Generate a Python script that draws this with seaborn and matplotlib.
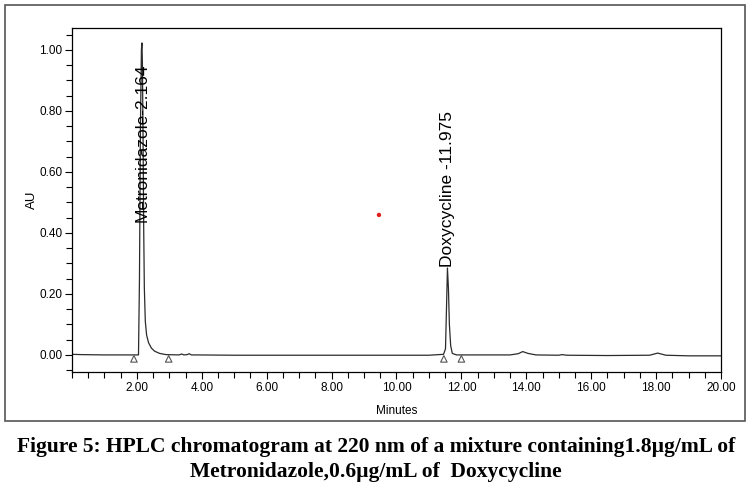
import numpy as np
import pandas as pd
import matplotlib
matplotlib.use("Agg")
import matplotlib.pyplot as plt
import seaborn as sns
from matplotlib.ticker import MultipleLocator, FormatStrFormatter
from matplotlib.patches import Rectangle

# chromatogram trace (minutes, AU)
minutes = [0.00, 0.30, 1.00, 1.90, 2.05, 2.08, 2.11, 2.14, 2.155, 2.17, 2.19, 2.21,
           2.23, 2.26, 2.30, 2.36, 2.45, 2.55, 2.70, 2.90, 3.30, 3.38, 3.45, 3.55,
           3.61, 3.68, 3.85, 5.00, 7.00, 9.00, 11.00, 11.45, 11.51, 11.54, 11.57,
           11.60, 11.63, 11.67, 11.72, 11.85, 12.50, 13.50, 13.75, 13.89, 14.05,
           14.30, 15.00, 15.10, 15.25, 16.50, 17.80, 18.05, 18.30, 19.00, 20.00]
au = [0.002, 0.001, 0.000, 0.000, 0.000, 0.250, 0.750, 1.000, 1.023, 0.960, 0.720, 0.420,
      0.220, 0.110, 0.065, 0.040, 0.022, 0.012, 0.005, 0.001, 0.000, 0.003, 0.000, 0.001,
      0.004, 0.000, 0.000, -0.001, -0.001, -0.001, -0.001, 0.002, 0.020, 0.150, 0.285,
      0.220, 0.100, 0.030, 0.005, 0.000, 0.000, 0.000, 0.004, 0.011, 0.005,
      0.000, -0.001, 0.001, -0.001, -0.002, -0.001, 0.006, -0.001, -0.003, -0.003]

# integration markers
marker_min = [1.91, 2.98, 11.46, 12.00]
marker_au = [-0.013, -0.013, -0.013, -0.013]

peak_names = ["Metronidazole-2.164", "Doxycycline -11.975"]
peak_min = [2.15, 11.58]
label_base = [0.436, 0.287]

dot_min = [9.46]
dot_au = [0.459]

trace = pd.DataFrame({"Minutes": minutes, "AU": au})
marks = pd.DataFrame({"Minutes": marker_min, "AU": marker_au})

sns.set_theme(style="ticks")
plt.rcParams["font.family"] = ["Liberation Sans", "DejaVu Sans"]
plt.rcParams["text.color"] = "black"
plt.rcParams["axes.labelcolor"] = "black"
plt.rcParams["xtick.color"] = "black"
plt.rcParams["ytick.color"] = "black"

fig = plt.figure(figsize=(7.52, 4.92), dpi=100)
ax = fig.add_axes([0.0957, 0.2439, 0.8631, 0.6992])

sns.lineplot(data=trace, x="Minutes", y="AU", ax=ax, color="#2b2b2b",
             linewidth=0.9, estimator=None, sort=False)
sns.scatterplot(data=marks, x="Minutes", y="AU", ax=ax, marker="^", s=22,
                facecolor="none", edgecolor="#555555", linewidth=0.8, zorder=3)
sns.scatterplot(x=dot_min, y=dot_au, ax=ax, color="#e0201b", s=10,
                edgecolor="none", zorder=3)

for name, x, y in zip(peak_names, peak_min, label_base):
    ax.text(x, y, name, rotation=90, ha="center", va="bottom", fontsize=12.5,
            color="black")

ax.set_xlim(0, 20)
ax.set_ylim(-0.056, 1.072)
ax.xaxis.set_minor_locator(MultipleLocator(0.5))
ax.yaxis.set_major_locator(MultipleLocator(0.2))
ax.yaxis.set_minor_locator(MultipleLocator(0.05))
ax.xaxis.set_major_formatter(FormatStrFormatter("%.2f"))
ax.yaxis.set_major_formatter(FormatStrFormatter("%.2f"))
# the reference starts its x labels at 2.00
ax.set_xticks([2, 4, 6, 8, 10, 12, 14, 16, 18, 20])

ax.tick_params(axis="both", which="major", length=5, width=0.8, labelsize=8.5,
               pad=2, colors="black")
ax.tick_params(axis="both", which="minor", length=4, width=0.8)
for s in ax.spines.values():
    s.set_visible(True)
    s.set_linewidth(0.9)
    s.set_color("black")

ax.set_xlabel("Minutes", fontsize=8.5, labelpad=8)
ax.set_ylabel("AU", fontsize=9.5, labelpad=1)

# frame around the whole chart
fig.patches.append(Rectangle((5 / 752, 1 - 421 / 492), 740 / 752, 416 / 492,
                             transform=fig.transFigure, fill=False,
                             edgecolor="#555555", linewidth=1.2))

fig.text(0.5, 1 - 447 / 492,
         "Figure 5: HPLC chromatogram at 220 nm of a mixture containing1.8\u00b5g/mL of",
         ha="center", va="center", fontsize=15.5, fontweight="bold",
         color="black", family=["Liberation Serif", "DejaVu Serif"])
fig.text(0.5, 1 - 472 / 492,
         "Metronidazole,0.6\u00b5g/mL of  Doxycycline",
         ha="center", va="center", fontsize=15.5, fontweight="bold",
         color="black", family=["Liberation Serif", "DejaVu Serif"])

fig.savefig("out.png", dpi=100)
